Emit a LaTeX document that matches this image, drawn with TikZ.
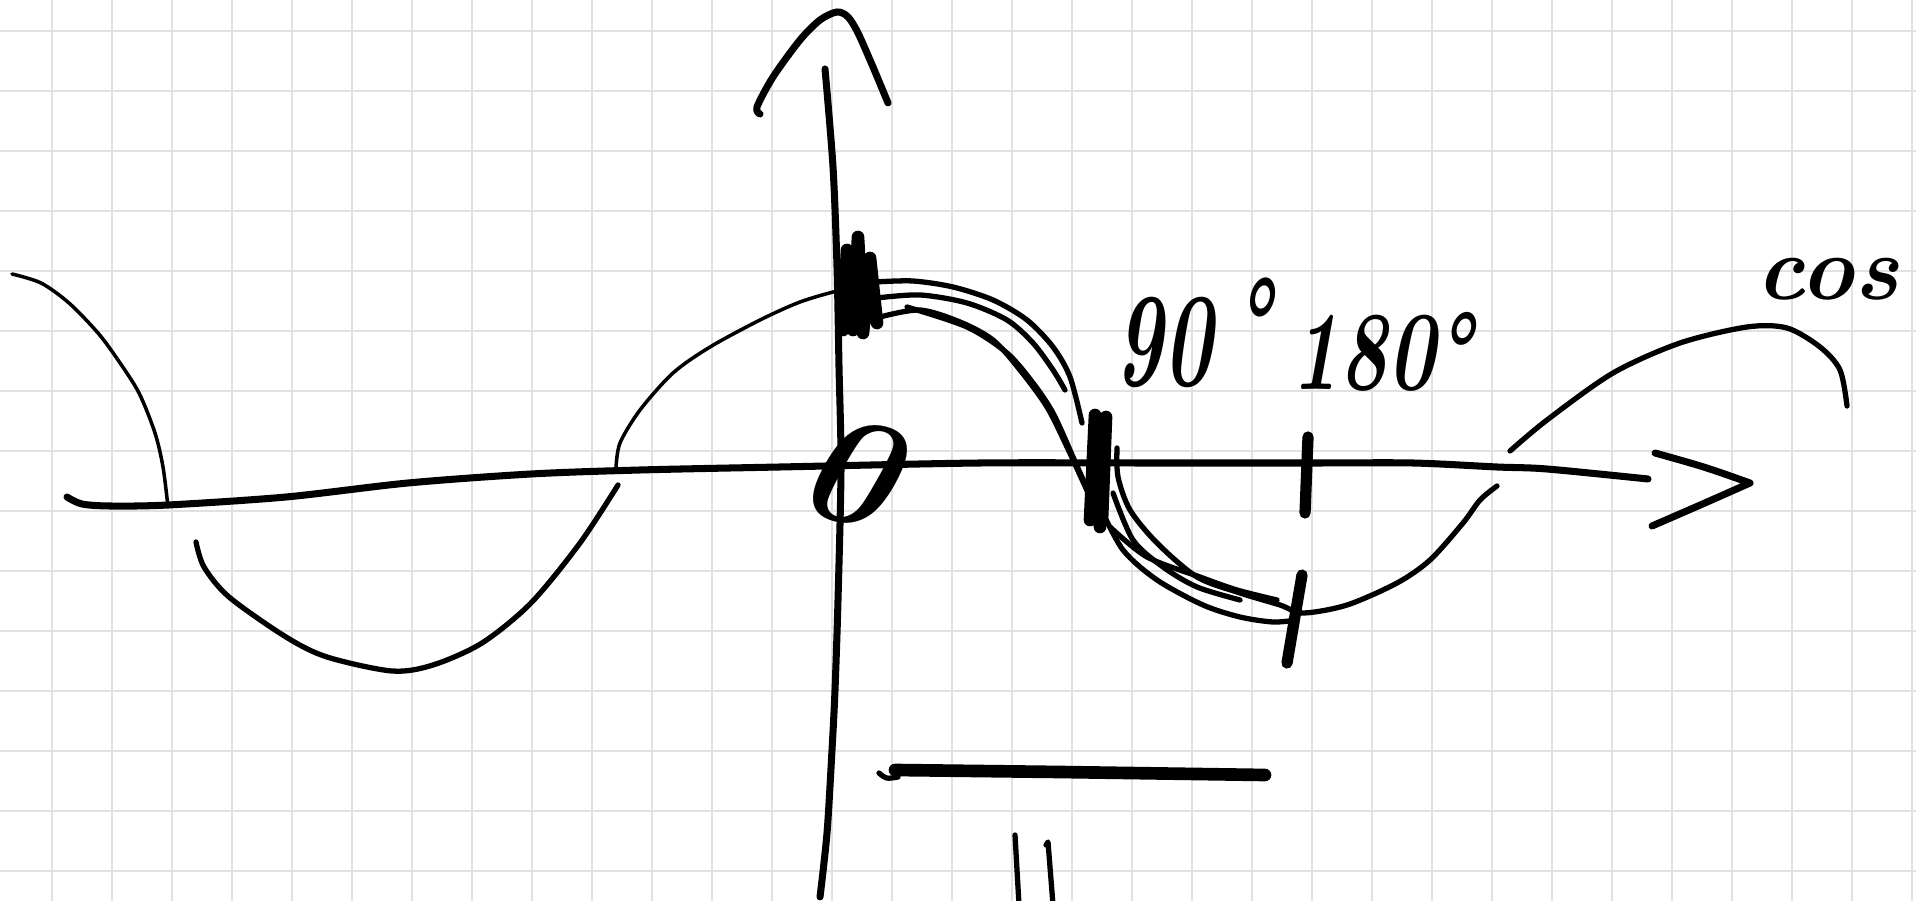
\documentclass[tikz,border=0pt]{standalone}
\usepackage{fontspec}
\usetikzlibrary{positioning}
\definecolor{gridgray}{HTML}{E1E1E1}
\definecolor{ink}{HTML}{000000}

\begin{document}
\begin{tikzpicture}[
		x=0.01cm, y=-0.01cm,
		gridline/.style={draw=gridgray, line width=0.5pt},
		pen/.style={draw=ink, line width=1.5pt, line cap=round, line join=round},
		thinpen/.style={pen, line width=1pt},
		axispen/.style={pen, line width=2pt},
		heavypen/.style={pen, line width=3.2pt},
		hand/.style={font=\fontsize{#1}{#1}\selectfont\bfseries\itshape, text=ink,
				inner sep=0pt},
	]

	\fill[white] (0,0) rectangle (1916,901);
	\useasboundingbox (0,0) rectangle (1916,901);

	\foreach \gx in {52,112,...,1912}
	\draw[gridline] (\gx,0) -- (\gx,901);
	\foreach \gy in {31,91,...,871}
	\draw[gridline] (0,\gy) -- (1916,\gy);

	% axes
	\draw[axispen] plot[smooth] coordinates {(67,497) (82,504) (110,506) (168,505)
			(286,497) (408,483) (531,474) (640,470) (780,467) (980,463) (1147,463)
			(1313,463) (1413,463) (1497,467) (1547,469) (1648,479)};
	\draw[axispen] (1655,453) .. controls (1705,467) .. (1750,483)
	.. controls (1705,503) .. (1652,526);
	\draw[axispen] plot[smooth] coordinates {(825,69) (833,167) (837,267) (839,367)
			(841,467) (838,600) (835,690) (832,750) (827,833) (820,897)};
	\draw[axispen] plot[smooth] coordinates {(760,114) (757,107) (773,77) (800,40)
			(820,20) (837,12) (848,17) (858,33) (873,67) (888,103)};

	% sine
	\draw[thinpen] plot[smooth] coordinates {(12,274) (41,283) (69,303) (98,333)
			(118,360) (139,393) (155,433) (163,467) (168,507)};
	\draw[pen] plot[smooth] coordinates {(196,542) (204,567) (229,597) (286,637)
			(327,657) (392,671) (433,665) (482,643) (531,603) (580,543) (618,485)};
	\draw[thinpen] plot[smooth] coordinates {(616,468) (620,443) (640,410) (673,373)
			(710,347) (760,320) (800,302) (837,291) (852,289)};

	% cos
	\draw[pen] plot[smooth] coordinates {(875,282) (913,281) (953,287) (993,300)
			(1027,320) (1053,347) (1070,377) (1082,423)};
	\draw[pen] plot[smooth] coordinates {(877,298) (920,295) (967,303) (1007,320)
			(1033,343) (1053,370) (1065,390)};
	\draw[pen] plot[smooth] coordinates {(880,317) (920,310) (960,322) (993,340)
			(1020,370) (1047,407) (1067,447) (1090,497) (1100,517)};
	\draw[pen] plot[smooth] coordinates {(907,307) (967,327) (1007,353) (1033,383)
			(1053,413) (1073,457) (1092,500)};
	\draw[pen] plot[smooth] coordinates {(1117,448) (1118,477) (1130,510) (1157,543)
			(1197,577) (1240,593) (1280,605) (1303,613) (1347,605) (1397,583)
			(1430,560) (1463,523) (1480,500) (1497,486)};
	\draw[pen] plot[smooth] coordinates {(1100,507) (1123,550) (1157,580) (1203,605)
			(1240,617) (1273,622) (1297,620)};
	\draw[pen] plot[smooth] coordinates {(1113,493) (1133,540) (1163,567) (1197,587)
			(1240,600)};
	\draw[pen] plot[smooth] coordinates {(1110,527) (1147,557) (1200,577) (1237,590)
			(1277,600)};
	\draw[pen] plot[smooth] coordinates {(1510,451) (1547,420) (1613,373) (1680,343)
			(1747,327) (1787,328) (1820,347) (1840,370) (1847,406)};

	% marks
	\draw[heavypen, line width=3.6pt] (843,330) -- (847,250) -- (853,330) -- (858,237)
	-- (863,333) -- (870,258) -- (877,323);
	\draw[heavypen, line width=3.6pt] (1090,520) -- (1095,415) -- (1100,527)
	-- (1106,417) -- (1102,520);
	\draw[heavypen] (1308,437) -- (1305,513);
	\draw[heavypen] (1302,575) -- (1287,663);

	\draw[pen] (879,773) .. controls (886,779) .. (898,777);
	\draw[pen, line width=3.6pt] (895,770) -- (1060,772) -- (1265,775);
	\draw[pen] (1015,835) -- (1019,905);
	\draw[pen] (1046,845) -- (1048,842) -- (1053,905);

	% labels
	\node[hand=44, rotate=-15, transform shape] (zero) at (849,471) {0};
	\node[hand=38, xscale=0.62, transform shape, anchor=base west] (ninety)
	at (1114,386) {90\hspace{0.25em}\raisebox{0.12em}{°}};
	\node[hand=32, xscale=0.72, transform shape, anchor=base west] (oneeighty)
	at (1291,390) {180°};
	\node[hand=26, anchor=base west] (coslabel) at (1756,300) {cos};

\end{tikzpicture}
\end{document}
